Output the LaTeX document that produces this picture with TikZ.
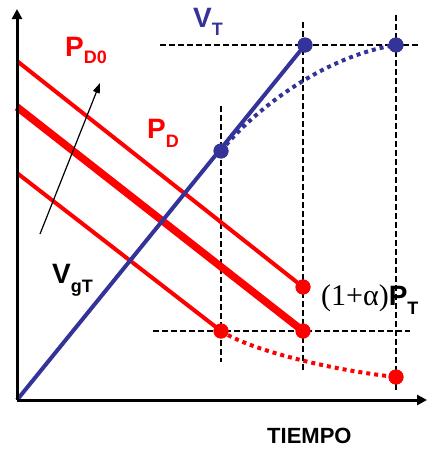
\documentclass[tikz,border=0pt]{standalone}
\usepackage{fontspec}
\setmainfont{Liberation Sans}
\newfontfamily\timesfont{Liberation Serif}
\usetikzlibrary{arrows.meta}
\definecolor{vblue}{RGB}{51,51,153}
\definecolor{pred}{RGB}{255,0,0}
\newcommand{\bigf}{\fontsize{28}{28}\selectfont\bfseries}
\newcommand{\subf}{\fontsize{18}{18}\selectfont\bfseries}
\begin{document}
\begin{tikzpicture}[x=1pt,y=-1pt,
  axis/.style={line width=3pt,-{Triangle[length=10pt,width=10pt]}},
  guide/.style={line width=1.2pt,dash pattern=on 5.5pt off 3.5pt},
  redline/.style={pred,line width=4pt},
  thickred/.style={pred,line width=7.5pt},
  blueline/.style={vblue,line width=4pt},
  bluedot/.style={vblue,line width=4pt,dash pattern=on 4pt off 4pt},
  reddot/.style={pred,line width=4pt,dash pattern=on 4pt off 4pt},
  rdot/.style={circle,fill=pred,inner sep=0pt,minimum size=15pt},
  bdot/.style={circle,fill=vblue,inner sep=0pt,minimum size=15pt},
  lbl/.style={anchor=base west,inner sep=0pt}]
\useasboundingbox (0,0) rectangle (430,450);
% coordinates
\coordinate (O) at (17,400);
\coordinate (ytip) at (17,9);
\coordinate (xtip) at (427,400);
% guides
\coordinate (h1a) at (160,45); \coordinate (h1b) at (418,45);
\coordinate (h2a) at (153,331); \coordinate (h2b) at (410,331);
\coordinate (v1a) at (221,106); \coordinate (v1b) at (221,362);
\coordinate (v2a) at (303,22); \coordinate (v2b) at (303,370);
\coordinate (v3a) at (396,15); \coordinate (v3b) at (396,392);
\draw[guide] (h1a) -- (h1b);
\draw[guide] (h2a) -- (h2b);
\draw[guide] (v1a) -- (v1b);
\draw[guide] (v2a) -- (v2b);
\draw[guide] (v3a) -- (v3b);
% red lines
\coordinate (r1s) at (17,61);
\coordinate (r2s) at (17,107);
\coordinate (r3s) at (17,173);
\node[rdot] (r1e) at (303,287) {};
\node[rdot] (r2e) at (303,331) {};
\node[rdot] (r3e) at (221,331) {};
\node[rdot] (r4e) at (396,377) {};
\draw[redline] (r1s) -- (r1e.center);
\draw[thickred] (r2s) -- (r2e.center);
\draw[redline] (r3s) -- (r3e.center);
\draw[reddot] (r3e.center) .. controls (250,350) and (330,370) .. (r4e.center);
% blue
\node[bdot] (b1) at (221,151) {};
\node[bdot] (b2) at (305,45) {};
\node[bdot] (b3) at (396,45) {};
\draw[blueline] (O) -- (b2.center);
\draw[bluedot] (b1.center) .. controls (260,103) and (330,55) .. (b3.center);
% redraw dots on top
\node[rdot] at (r1e) {};
\node[rdot] at (r2e) {};
\node[rdot] at (r3e) {};
\node[rdot] at (r4e) {};
\node[bdot] at (b1) {};
\node[bdot] at (b2) {};
\node[bdot] at (b3) {};
% axes
\draw[axis] (O) -- (ytip);
\draw[axis] (O) -- (xtip);
% thin arrow
\coordinate (aS) at (40,234);
\coordinate (aE) at (100,83);
\draw[line width=1.2pt,-{Triangle[length=10pt,width=7pt]}] (aS) -- (aE);
% labels
\node[lbl,pred] (pd0) at (65,56) {\bigf P\raisebox{-7pt}{\subf D0}};
\node[lbl,pred] (pd) at (147,138) {\bigf P\raisebox{-9pt}{\subf D}};
\node[lbl,vblue] (vt) at (193,27) {\bigf V\raisebox{-8pt}{\subf T}};
\node[lbl] (vgt) at (52,283) {\bigf V\raisebox{-9pt}{\subf gT}};
\node[lbl] (pt) at (321,305) {{\timesfont\fontsize{30}{30}\selectfont (1+α)}\bigf P\raisebox{-9pt}{\subf T}};
\node[lbl] (tiempo) at (267,443) {\fontsize{22}{22}\selectfont\bfseries TIEMPO};
\end{tikzpicture}
\end{document}
